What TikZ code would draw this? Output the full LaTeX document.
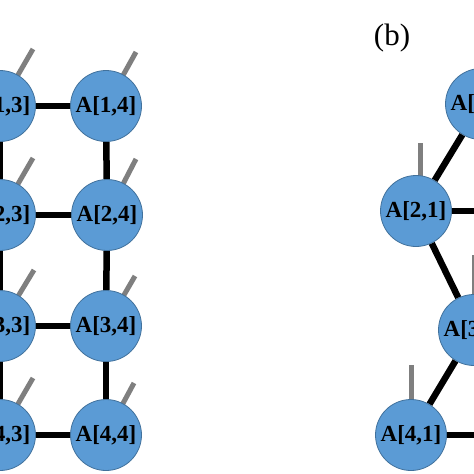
\documentclass[tikz,border=0pt]{standalone}
\usepackage{fontspec}
\setmainfont{Liberation Serif}
\usetikzlibrary{positioning, calc, backgrounds}
\definecolor{sitefill}{HTML}{5B9BD5}
\definecolor{siteline}{HTML}{41719C}
\definecolor{leggray}{HTML}{7F7F7F}

\begin{document}
\begin{tikzpicture}[
        x=1pt, y=-1pt,
        site/.style={circle, draw=siteline, line width=0.8pt, fill=sitefill, minimum size=71pt, inner sep=0pt, font=\fontsize{23}{23}\selectfont\bfseries},
        bond/.style={line width=6.5pt, black},
        leg/.style={line width=5pt, leggray}
        ]
        \useasboundingbox (0,0) rectangle (474,474);
        \clip (0,0) rectangle (474,474);

        \node[site] (a13) at (0,106) {A[1,3]};
        \node[site] (a14) at (106,106) {A[1,4]};
        \node[site] (a23) at (0,215) {A[2,3]};
        \node[site] (a24) at (107,215) {A[2,4]};
        \node[site] (a33) at (0,326) {A[3,3]};
        \node[site] (a34) at (106,326) {A[3,4]};
        \node[site] (a43) at (0,435) {A[4,3]};
        \node[site] (a44) at (106,435) {A[4,4]};

        \node[site] (b11) at (481,104) {A[1,1]};
        \node[site] (b21) at (416,211) {A[2,1]};
        \node[site] (b31) at (474,330) {A[3,1]};
        \node[site] (b41) at (411,435) {A[4,1]};

        \node (lblb) at (392,38) {\fontsize{31}{31}\selectfont (b)};

        \coordinate (b22) at (540,211);
        \coordinate (b42) at (540,435);

        \begin{pgfonlayer}{background}
        \draw[leg] (a13.center) -- ++(33,-57);
        \draw[leg] (a14.center) -- ++(30,-54);
        \draw[leg] (a23.center) -- ++(33,-57);
        \draw[leg] (a24.center) -- ++(29,-56);
        \draw[leg] (a33.center) -- ++(34,-56);
        \draw[leg] (a34.center) -- ++(29,-50);
        \draw[leg] (a43.center) -- ++(33,-57);
        \draw[leg] (a44.center) -- ++(28,-52);

        \draw[leg] (b11.center) -- ++(0,-70);
        \draw[leg] ($(b21.center)+(4,0)$) -- ++(0,-68);
        \draw[leg] (b31.center) -- ++(0,-75);
        \draw[leg] (b41.center) -- ++(0,-70);

        \draw[bond] (a13) -- (a14);
        \draw[bond] (a23) -- (a24);
        \draw[bond] (a33) -- (a34);
        \draw[bond] (a43) -- (a44);
        \draw[bond] (a13) -- (a23);
        \draw[bond] (a23) -- (a33);
        \draw[bond] (a33) -- (a43);
        \draw[bond] (a14) -- (a24);
        \draw[bond] (a24) -- (a34);
        \draw[bond] (a34) -- (a44);

        \draw[bond] (b11) -- (b21);
        \draw[bond] (b21) -- (b31);
        \draw[bond] (b31) -- (b41);
        \draw[bond] (b21) -- (b22);
        \draw[bond] (b41) -- (b42);
        \end{pgfonlayer}
\end{tikzpicture}
\end{document}
